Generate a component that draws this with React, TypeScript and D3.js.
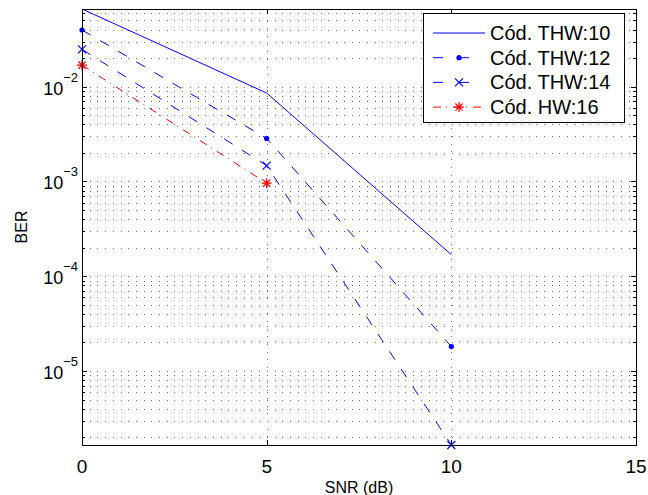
import React, { useEffect, useRef } from 'react';
import * as d3 from 'd3';

// values
const snr = [0, 5, 10];
const snrHW = [0, 5];
const berTHW10 = [0.0661, 0.00858, 1.69e-4];
const berTHW12 = [0.0397, 0.00285, 1.81e-5];
const berTHW14 = [0.0248, 0.00147, 1.656e-6];
const berHW16 = [0.0169, 9.6e-4];
const xTicks = [0, 5, 10, 15];
const yDecades = [-2, -3, -4, -5];
const legendLabels = ['Cód. THW:10', 'Cód. THW:12', 'Cód. THW:14', 'Cód. HW:16'];

const FONT = '"Liberation Sans", Arial, Helvetica, sans-serif';

export default function App() {
  const svgRef = useRef<SVGSVGElement | null>(null);

  useEffect(() => {
    if (!svgRef.current) return;
    const width = 648;
    const height = 495;
    const left = 82, right = 636, top = 9, bottom = 445;

    const svg = d3.select(svgRef.current);
    svg.selectAll('*').remove();
    svg.attr('width', width).attr('height', height);

    svg.append('rect').attr('width', width).attr('height', height).attr('fill', '#fff');

    const all = [...berTHW10, ...berTHW12, ...berTHW14, ...berHW16];
    const x = d3.scaleLinear().domain([0, 15]).range([left, right]);
    const y = d3.scaleLog().domain(d3.extent(all) as [number, number]).range([bottom, top]);

    // minor + major log values inside the domain
    const [lo, hi] = y.domain();
    const logVals: number[] = [];
    for (let e = -7; e <= 0; e++) {
      for (let m = 1; m <= 9; m++) {
        const v = m * Math.pow(10, e);
        if (v >= lo * 1.0001 && v <= hi * 0.9999) logVals.push(v);
      }
    }

    // grid (dotted)
    const grid = svg.append('g')
      .attr('stroke', '#666').attr('stroke-width', 1)
      .attr('stroke-dasharray', '1,6.7').attr('shape-rendering', 'crispEdges');
    logVals.forEach(v => {
      const yy = Math.round(y(v)) + 0.5;
      grid.append('line').attr('x1', left).attr('x2', right).attr('y1', yy).attr('y2', yy);
    });
    xTicks.slice(1, -1).forEach(t => {
      const xx = Math.round(x(t)) + 0.5;
      grid.append('line').attr('x1', xx).attr('x2', xx).attr('y1', bottom).attr('y2', top);
    });

    // ticks (inward, both sides)
    const ticks = svg.append('g').attr('stroke', '#000').attr('stroke-width', 1).attr('shape-rendering', 'crispEdges');
    xTicks.forEach(t => {
      const xx = Math.round(x(t)) + 0.5;
      ticks.append('line').attr('x1', xx).attr('x2', xx).attr('y1', bottom).attr('y2', bottom - 5);
      ticks.append('line').attr('x1', xx).attr('x2', xx).attr('y1', top).attr('y2', top + 5);
    });
    logVals.forEach(v => {
      const yy = Math.round(y(v)) + 0.5;
      const major = Math.abs(Math.log10(v) - Math.round(Math.log10(v))) < 1e-9;
      const len = major ? 5 : 3;
      ticks.append('line').attr('x1', left).attr('x2', left + len).attr('y1', yy).attr('y2', yy);
      ticks.append('line').attr('x1', right).attr('x2', right - len).attr('y1', yy).attr('y2', yy);
    });

    // series
    const blue = '#0000ff';
    const red = '#ff0000';
    const line = d3.line<[number, number]>().x(d => x(d[0])).y(d => y(d[1]));
    const series = [
      { xs: snr, ys: berTHW10, color: blue, dash: null, marker: 'none' },
      { xs: snr, ys: berTHW12, color: blue, dash: '10,11', marker: 'dot' },
      { xs: snr, ys: berTHW14, color: blue, dash: '10,11', marker: 'x' },
      { xs: snrHW, ys: berHW16, color: red, dash: '8,5,1,6', marker: 'star' },
    ];

    const drawMarker = (g: any, type: string, cx: number, cy: number, color: string) => {
      if (type === 'dot') {
        g.append('circle').attr('cx', cx).attr('cy', cy).attr('r', 2.6).attr('fill', color);
      } else if (type === 'x') {
        const s = 4;
        g.append('path').attr('d', `M${cx - s},${cy - s}L${cx + s},${cy + s}M${cx - s},${cy + s}L${cx + s},${cy - s}`)
          .attr('stroke', color).attr('stroke-width', 1.2).attr('fill', 'none');
      } else if (type === 'star') {
        const s = 5, d = 3.6;
        g.append('path').attr('d', `M${cx - s},${cy}L${cx + s},${cy}M${cx},${cy - s}L${cx},${cy + s}M${cx - d},${cy - d}L${cx + d},${cy + d}M${cx - d},${cy + d}L${cx + d},${cy - d}`)
          .attr('stroke', color).attr('stroke-width', 1.2).attr('fill', 'none');
      }
    };

    const lines = svg.append('g');
    series.forEach(s => {
      const pts = s.xs.map((v, i) => [v, s.ys[i]] as [number, number]);
      lines.append('path')
        .attr('d', line(pts))
        .attr('fill', 'none')
        .attr('stroke', s.color)
        .attr('stroke-width', 1)
        .attr('stroke-dasharray', s.dash);
      pts.forEach(p => drawMarker(lines, s.marker, x(p[0]), y(p[1]), s.color));
    });

    // axes box
    svg.append('rect')
      .attr('x', left + 0.5).attr('y', top + 0.5)
      .attr('width', right - left).attr('height', bottom - top)
      .attr('fill', 'none').attr('stroke', '#000').attr('stroke-width', 1)
      .attr('shape-rendering', 'crispEdges');

    // tick labels
    xTicks.forEach(t => {
      svg.append('text')
        .attr('x', x(t)).attr('y', bottom + 28)
        .attr('text-anchor', 'middle')
        .style('font-family', FONT).style('font-size', '19px')
        .text(t);
    });
    yDecades.forEach(e => {
      const t = svg.append('text')
        .attr('x', left - 4).attr('y', y(Math.pow(10, e)) + 8)
        .attr('text-anchor', 'end')
        .style('font-family', FONT).style('font-size', '18px');
      t.append('tspan').text('10');
      t.append('tspan').attr('dy', -13).style('font-size', '13px').text(`\u2212${-e}`);
    });

    // axis labels
    svg.append('text')
      .attr('x', (left + right) / 2).attr('y', 493)
      .attr('text-anchor', 'middle')
      .style('font-family', FONT).style('font-size', '16px')
      .text('SNR (dB)');
    svg.append('text')
      .attr('transform', `translate(27,${(top + bottom) / 2}) rotate(-90)`)
      .attr('text-anchor', 'middle')
      .style('font-family', FONT).style('font-size', '16px')
      .text('BER');

    // legend
    const lg = svg.append('g');
    lg.append('rect')
      .attr('x', 423.5).attr('y', 13.5).attr('width', 201).attr('height', 109)
      .attr('fill', '#fff').attr('stroke', '#000').attr('stroke-width', 1);
    series.forEach((s, i) => {
      const cy = 33 + i * 24.7;
      lg.append('line')
        .attr('x1', 433).attr('x2', 485).attr('y1', cy).attr('y2', cy)
        .attr('stroke', s.color).attr('stroke-width', 1)
        .attr('stroke-dasharray', s.dash ? (s.marker === 'star' ? '8,5,1,6' : '10,16') : null);
      drawMarker(lg, s.marker, 459, cy, s.color);
      lg.append('text')
        .attr('x', 490).attr('y', cy + 7)
        .style('font-family', FONT).style('font-size', '20px')
        .text(legendLabels[i]);
    });
  }, []);

  return (
    <div>
      <style>{'body{margin:0}'}</style>
      <svg ref={svgRef} style={{ display: 'block' }} />
    </div>
  );
}
